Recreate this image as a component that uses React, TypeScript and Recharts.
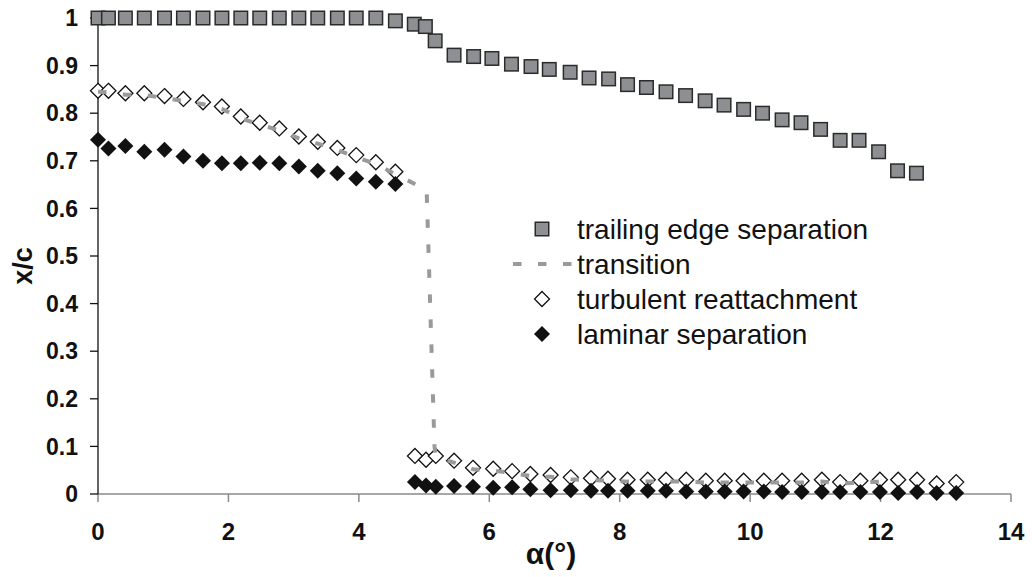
import { ScatterChart, Scatter, XAxis, YAxis, Legend } from "recharts";

// angle of attack (deg) for the trailing edge squares
const trailingAlpha = [
  0, 0.16, 0.42, 0.71, 1.02, 1.31, 1.61, 1.9, 2.19, 2.48, 2.78, 3.08, 3.37, 3.67, 3.96, 4.26, 4.56,
  4.85, 5.02, 5.17, 5.46, 5.76, 6.04, 6.34, 6.64, 6.92, 7.24, 7.53, 7.83, 8.12, 8.41, 8.71, 9.01,
  9.31, 9.6, 9.9, 10.19, 10.49, 10.78, 11.08, 11.38, 11.67, 11.97, 12.26, 12.55,
];
const trailingValue = [
  1, 1, 1, 1, 1, 1, 1, 1, 1, 1, 1, 1, 1, 1, 1, 1, 0.994,
  0.987, 0.982, 0.952, 0.922, 0.919, 0.915, 0.903, 0.898, 0.892, 0.886, 0.874, 0.872, 0.86, 0.854,
  0.845, 0.837, 0.826, 0.817, 0.808, 0.8, 0.786, 0.78, 0.766, 0.743, 0.743, 0.719, 0.679, 0.674,
];

// angle of attack for the diamonds (both series share it)
const bubbleAlpha = [
  0, 0.16, 0.42, 0.71, 1.02, 1.31, 1.61, 1.9, 2.19, 2.48, 2.78, 3.08, 3.37, 3.67, 3.96, 4.26, 4.56,
  4.86, 5.03, 5.18, 5.46, 5.75, 6.06, 6.35, 6.63, 6.94, 7.25, 7.56, 7.82, 8.12, 8.43, 8.71, 9.02,
  9.32, 9.61, 9.9, 10.21, 10.49, 10.79, 11.1, 11.38, 11.69, 11.99, 12.27, 12.56, 12.86, 13.16,
];
const turbulentValue = [
  0.847, 0.847, 0.842, 0.842, 0.836, 0.83, 0.823, 0.814, 0.793, 0.78, 0.768, 0.751, 0.74, 0.727,
  0.712, 0.697, 0.677,
  0.08, 0.072, 0.08, 0.07, 0.055, 0.053, 0.048, 0.042, 0.04, 0.035, 0.033, 0.032, 0.03, 0.03, 0.03,
  0.03, 0.028, 0.028, 0.028, 0.028, 0.028, 0.028, 0.03, 0.025, 0.028, 0.03, 0.03, 0.03, 0.022, 0.025,
];
const laminarValue = [
  0.744, 0.726, 0.731, 0.719, 0.723, 0.709, 0.7, 0.695, 0.695, 0.696, 0.695, 0.688, 0.679, 0.674,
  0.663, 0.656, 0.651,
  0.025, 0.018, 0.015, 0.017, 0.015, 0.013, 0.014, 0.01, 0.008, 0.008, 0.007, 0.007, 0.007, 0.007,
  0.007, 0.005, 0.005, 0.005, 0.005, 0.005, 0.004, 0.004, 0.004, 0.004, 0.004, 0.004, 0.002, 0.004,
  0.002, 0.002,
];

// dashed transition curve
const transitionAlpha = [
  0, 0.16, 0.42, 0.71, 1.02, 1.31, 1.61, 1.9, 2.19, 2.48, 2.78, 3.08, 3.37, 3.67, 3.96, 4.26, 4.56,
  4.85, 5.04, 5.16, 5.18, 5.46, 5.75, 6.06, 6.35, 6.63, 6.94, 7.25, 7.56, 7.82, 8.12, 8.43, 8.71,
  9.02, 9.32, 9.61, 9.9, 10.21, 10.49, 10.79, 11.1, 11.38, 11.69, 11.99,
];
const transitionValue = [
  0.845, 0.844, 0.839, 0.838, 0.832, 0.826, 0.819, 0.809, 0.789, 0.776, 0.764, 0.747, 0.736, 0.723,
  0.708, 0.693, 0.672, 0.652, 0.636, 0.1, 0.078, 0.066, 0.052, 0.049, 0.044, 0.038, 0.036, 0.031,
  0.029, 0.028, 0.026, 0.026, 0.026, 0.026, 0.024, 0.024, 0.024, 0.024, 0.024, 0.024, 0.026, 0.022,
  0.024, 0.026,
];

const xTicks = [0, 2, 4, 6, 8, 10, 12, 14];
const yTicks = [0, 0.1, 0.2, 0.3, 0.4, 0.5, 0.6, 0.7, 0.8, 0.9, 1];

const legendItems = [
  { key: "trailing", label: "trailing edge separation" },
  { key: "transition", label: "transition" },
  { key: "turbulent", label: "turbulent reattachment" },
  { key: "laminar", label: "laminar separation" },
];

const toPoints = (xs: number[], ys: number[]) => xs.map((x, i) => ({ x, y: ys[i] }));

const SQUARE_FILL = "#8e8f93";
const DASH_GRAY = "#9a9a9a";

const Square = ({ cx, cy }: any) => (
  <rect x={cx - 6.75} y={cy - 6.75} width={13.5} height={13.5} fill={SQUARE_FILL} stroke="#2b2b2b" strokeWidth={1.5} />
);

const diamond = (cx: number, cy: number, r: number) =>
  `${cx},${cy - r} ${cx + r},${cy} ${cx},${cy + r} ${cx - r},${cy}`;

const OpenDiamond = ({ cx, cy }: any) => (
  <polygon points={diamond(cx, cy, 7.5)} fill="#fff" stroke="#111" strokeWidth={1.3} />
);

const FilledDiamond = ({ cx, cy }: any) => <polygon points={diamond(cx, cy, 8)} fill="#111" />;

const NoDot = () => <g />;

function LegendBox() {
  const rowY = [24, 59, 94, 129];
  return (
    <svg width={420} height={150}>
      {legendItems.map((item, i) => {
        const y = rowY[i];
        let marker = null;
        if (item.key === "trailing") marker = <Square cx={52} cy={y} />;
        if (item.key === "transition")
          marker = (
            <line x1={23} x2={82} y1={y} y2={y} stroke={DASH_GRAY} strokeWidth={4} strokeDasharray="8.5 16.5" />
          );
        if (item.key === "turbulent") marker = <OpenDiamond cx={52} cy={y} />;
        if (item.key === "laminar") marker = <FilledDiamond cx={52} cy={y} />;
        return (
          <g key={item.key}>
            {marker}
            <text x={87} y={y + 9.5} fontSize={28} fill="#111">
              {item.label}
            </text>
          </g>
        );
      })}
    </svg>
  );
}

export default function App() {
  return (
    <div
      style={{
        position: "absolute",
        left: 0,
        top: 0,
        width: 1032,
        height: 577,
        background: "#fff",
        fontFamily: "'Liberation Sans', Arial, sans-serif",
      }}
    >
      <ScatterChart width={1032} height={577} margin={{ top: 18, right: 21, bottom: 0, left: 0 }}>
        <XAxis
          type="number"
          dataKey="x"
          domain={[0, 14]}
          ticks={xTicks}
          interval={0}
          height={83}
          axisLine={{ stroke: "#8a8a8a", strokeWidth: 1.5 }}
          tickLine={{ stroke: "#8a8a8a", strokeWidth: 1.5 }}
          tickSize={8}
          tickMargin={21}
          tick={{ fill: "#111", fontSize: 24, fontWeight: 700 }}
          label={{
            content: () => (
              <text x={551} y={564} textAnchor="middle" fontSize={30} fontWeight={700} fill="#111">
                α(°)
              </text>
            ),
          }}
        />
        <YAxis
          type="number"
          dataKey="y"
          domain={[0, 1]}
          ticks={yTicks}
          interval={0}
          width={98}
          axisLine={{ stroke: "#111", strokeWidth: 1.3 }}
          tickLine={{ stroke: "#111", strokeWidth: 1.3 }}
          tickSize={8}
          tickMargin={12}
          tick={{ fill: "#111", fontSize: 23, fontWeight: 700 }}
          label={{
            content: () => (
              <text
                x={32}
                y={266}
                transform="rotate(-90 32 266)"
                textAnchor="middle"
                fontSize={27}
                fontWeight={700}
                fill="#111"
              >
                x/c
              </text>
            ),
          }}
        />
        <Legend
          layout="vertical"
          align="center"
          verticalAlign="middle"
          wrapperStyle={{ left: 490, top: 205, width: 420, height: 150 }}
          content={() => <LegendBox />}
        />
        <Scatter
          name="trailing edge separation"
          data={toPoints(trailingAlpha, trailingValue)}
          shape={Square}
          isAnimationActive={false}
        />
        <Scatter
          name="turbulent reattachment"
          data={toPoints(bubbleAlpha, turbulentValue)}
          shape={OpenDiamond}
          isAnimationActive={false}
        />
        <Scatter
          name="transition"
          data={toPoints(transitionAlpha, transitionValue)}
          shape={NoDot}
          line={{ stroke: DASH_GRAY, strokeWidth: 4, strokeDasharray: "8.5 16.5" }}
          isAnimationActive={false}
        />
        <Scatter
          name="laminar separation"
          data={toPoints(bubbleAlpha, laminarValue)}
          shape={FilledDiamond}
          isAnimationActive={false}
        />
      </ScatterChart>
    </div>
  );
}
